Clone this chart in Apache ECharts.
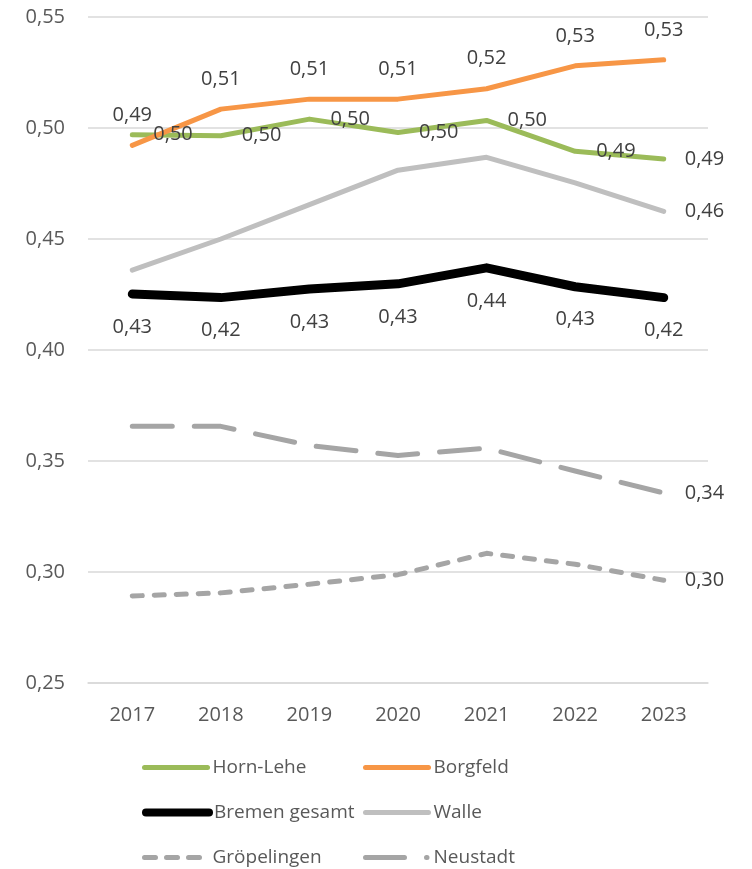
<!DOCTYPE html>
<html>
<head>
<meta charset="utf-8">
<script src="https://cdn.jsdelivr.net/npm/echarts@6/dist/echarts.min.js"></script>
<style>
  body { margin: 0; background: #fff; }
  #chart { width: 752px; height: 869px; }
</style>
</head>
<body>
<div id="chart"></div>
<script>
var years = ["2017", "2018", "2019", "2020", "2021", "2022", "2023"];
var hornLehe = [0.497, 0.4965, 0.504, 0.498, 0.5034, 0.4895, 0.486];
var borgfeld = [0.4922, 0.5085, 0.513, 0.513, 0.5177, 0.528, 0.5307];
var bremenGesamt = [0.4252, 0.4236, 0.4275, 0.4298, 0.437, 0.4285, 0.4236];
var walle = [0.436, 0.450, 0.4655, 0.481, 0.4868, 0.4753, 0.4624];
var groepelingen = [0.2892, 0.2906, 0.2945, 0.2988, 0.3084, 0.3035, 0.2963];
var neustadt = [0.3656, 0.3656, 0.357, 0.3525, 0.3558, 0.3455, 0.3356];

var font = "Open Sans";
var fmt = function (v) { return v.toFixed(2).replace(".", ","); };

// only the last point carries a label
function lastLabel(arr) {
  return arr.map(function (v, i) {
    return i === arr.length - 1 ? { value: v, label: { show: true } } : v;
  });
}

function lineSeries(name, data, color, width, type, label) {
  return {
    name: name,
    type: "line",
    data: data,
    symbol: "circle",
    symbolSize: 0,
    showSymbol: true,
    smooth: false,
    lineStyle: { color: color, width: width, type: type, cap: "round", join: "round" },
    itemStyle: { color: color },
    label: Object.assign({
      color: "#404040",
      fontFamily: font,
      fontSize: 20,
      formatter: function (p) { return fmt(p.value); }
    }, label),
    emphasis: { disabled: true }
  };
}

function legendAt(name, left, top, width, type) {
  return {
    data: [name],
    left: left,
    top: top,
    padding: 0,
    itemWidth: 63,
    itemHeight: 14,
    selectedMode: false,
    itemStyle: { opacity: 0 },
    lineStyle: { width: width, type: type, cap: "round" },
    textStyle: { color: "#595959", fontFamily: font, fontSize: 19 }
  };
}

var chart = echarts.init(document.getElementById("chart"));
chart.setOption({
  animation: false,
  backgroundColor: "#ffffff",
  grid: { left: 88, right: 44, top: 17, bottom: 186 },
  xAxis: {
    type: "category",
    data: years,
    boundaryGap: true,
    axisLine: { show: true, lineStyle: { color: "#D9D9D9", width: 1.5 } },
    axisTick: { show: false },
    axisLabel: { color: "#595959", fontFamily: font, fontSize: 20, margin: 22 }
  },
  yAxis: {
    type: "value",
    min: 0.25,
    max: 0.55,
    interval: 0.05,
    axisLine: { show: false },
    axisTick: { show: false },
    splitLine: { lineStyle: { color: "#D9D9D9", width: 1.5 } },
    axisLabel: {
      color: "#595959",
      fontFamily: font,
      fontSize: 20,
      margin: 23,
      formatter: function (v) { return fmt(v); }
    }
  },
  legend: [
    legendAt("Horn-Lehe", 142, 758, 5, "solid"),
    legendAt("Borgfeld", 363, 758, 5, "solid"),
    legendAt("Bremen gesamt", 142, 803, 8, "solid"),
    legendAt("Walle", 363, 803, 5, "solid"),
    legendAt("Gröpelingen", 142, 848, 5, [11, 11]),
    legendAt("Neustadt", 363, 848, 5, [39, 22, 0.5, 100])
  ],
  series: [
    lineSeries("Horn-Lehe", hornLehe, "#9BBB59", 5, "solid", { show: true, position: "right", distance: 21 }),
    lineSeries("Borgfeld", borgfeld, "#F79646", 5, "solid", { show: true, position: "top", distance: 20 }),
    lineSeries("Bremen gesamt", bremenGesamt, "#000000", 9, "solid", { show: true, position: "bottom", distance: 23 }),
    lineSeries("Walle", lastLabel(walle), "#BFBFBF", 5, "solid", { show: false, position: "right", distance: 21 }),
    lineSeries("Gröpelingen", lastLabel(groepelingen), "#A5A5A5", 5, [10, 12], { show: false, position: "right", distance: 21 }),
    lineSeries("Neustadt", lastLabel(neustadt), "#A5A5A5", 5, [40, 22], { show: false, position: "right", distance: 21 })
  ]
});
</script>
</body>
</html>
